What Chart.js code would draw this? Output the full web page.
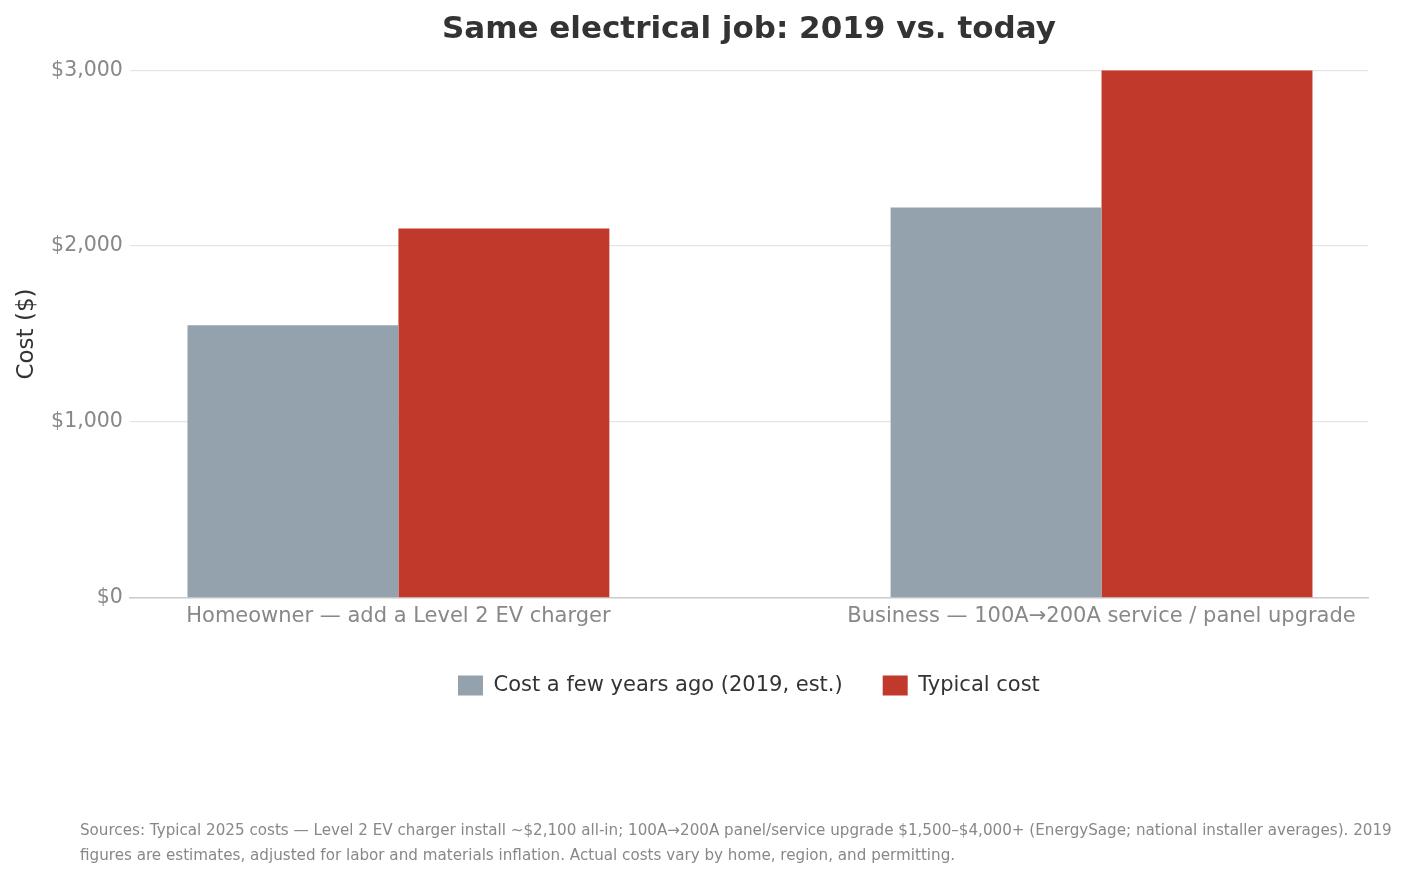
<!DOCTYPE html>
<html>
<head>
<meta charset="utf-8">
<title>Same electrical job: 2019 vs. today</title>
<script src="https://cdn.jsdelivr.net/npm/chart.js@4.4.1/dist/chart.umd.min.js"></script>
<style>
  html, body { margin: 0; padding: 0; background: #fff; }
  #wrap { position: relative; width: 1406px; height: 878px; }
  #note {
    position: absolute; left: 80px; top: 818px;
    font-family: "DejaVu Sans", sans-serif; font-size: 15.15px; line-height: 25px;
    color: #888;
  }
</style>
</head>
<body>
<div id="wrap">
  <canvas id="grafico"></canvas>
  <div id="note">Sources: Typical 2025 costs — Level 2 EV charger install ~$2,100 all-in; 100A→200A panel/service upgrade $1,500–$4,000+ (EnergySage; national installer averages). 2019<br>figures are estimates, adjusted for labor and materials inflation. Actual costs vary by home, region, and permitting.</div>
</div>
<script>
// dati del grafico
const categorie = [
  'Homeowner — add a Level 2 EV charger',
  'Business — 100A→200A service / panel upgrade'
];
const costi2019 = [1550, 2220];
const costiOggi = [2100, 3000];
const tickY = [0, 1000, 2000, 3000];

const FONT = '"DejaVu Sans", sans-serif';

// barre su asse x lineare (indice categoria) per replicare i margini laterali
const punti = arr => arr.map((v, i) => ({ x: i, y: v }));

new Chart(document.getElementById('grafico'), {
  type: 'bar',
  data: {
    datasets: [
      {
        label: 'Cost a few years ago (2019, est.)',
        data: punti(costi2019),
        backgroundColor: '#94a2ad',
        borderWidth: 0
      },
      {
        label: 'Typical cost',
        data: punti(costiOggi),
        backgroundColor: '#c0392b',
        borderWidth: 0
      }
    ]
  },
  options: {
    responsive: true,
    maintainAspectRatio: false,
    animation: false,
    categoryPercentage: 0.6,
    barPercentage: 1.0,
    layout: { padding: { left: 13, right: 38, top: 0, bottom: 172 } },
    plugins: {
      title: {
        display: true,
        fullSize: false,
        text: 'Same electrical job: 2019 vs. today',
        color: '#333',
        font: { family: FONT, size: 31, weight: 'bold' },
        padding: { top: 11, bottom: 22 }
      },
      legend: {
        position: 'bottom',
        fullSize: false,
        labels: {
          boxWidth: 25,
          boxHeight: 20,
          padding: 40,
          color: '#333',
          font: { family: FONT, size: 21 }
        }
      },
      tooltip: { enabled: false }
    },
    scales: {
      x: {
        type: 'linear',
        offset: false,
        min: -0.382,
        max: 1.379,
        afterBuildTicks: axis => { axis.ticks = categorie.map((c, i) => ({ value: i })); },
        grid: { display: false, drawTicks: false },
        border: { display: true, color: '#cccccc', width: 1.5 },
        ticks: {
          padding: 6,
          color: '#888',
          font: { family: FONT, size: 21 },
          maxRotation: 0,
          autoSkip: false,
          callback: v => categorie[v] ?? ''
        }
      },
      y: {
        min: 0,
        max: 3000,
        afterBuildTicks: axis => { axis.ticks = tickY.map(v => ({ value: v })); },
        grid: { color: '#e5e5e5', lineWidth: 1.2, drawTicks: false },
        border: { display: false },
        ticks: {
          padding: 7,
          color: '#888',
          font: { family: FONT, size: 20.5 },
          callback: v => '$' + v.toLocaleString('en-US')
        },
        title: {
          display: true,
          text: 'Cost ($)',
          color: '#333',
          font: { family: FONT, size: 23 },
          padding: { top: 0, bottom: 3.5 }
        }
      }
    }
  }
});
</script>
</body>
</html>
